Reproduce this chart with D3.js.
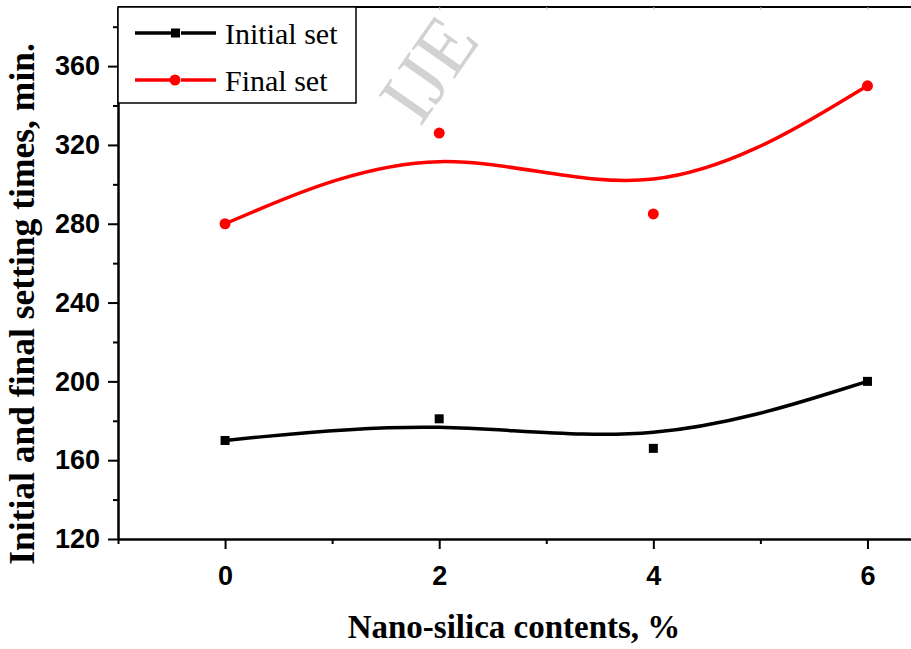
<!DOCTYPE html>
<html>
<head>
<meta charset="utf-8">
<script src="https://cdn.jsdelivr.net/npm/d3@7"></script>
<style>
  body { margin: 0; background: #fff; overflow: hidden; }
  svg { display: block; }
</style>
</head>
<body>
<div class="display"></div>
<script>
const width = 911;
const height = 649;

const contents = [0, 2, 4, 6];
const initialSet = [170, 181, 166, 200];
const finalSet = [280, 326, 285, 350];
const seriesNames = ['Initial set', 'Final set'];
const xMajorTicks = [0, 2, 4, 6];
const xMinorTicks = [-1, 1, 3, 5];
const yMajorTicks = [120, 160, 200, 240, 280, 320, 360];
const yMinorTicks = [140, 180, 220, 260, 300, 340, 380];

const svg = d3.select('.display')
  .append('svg')
  .attr('width', width)
  .attr('height', height);

const xScale = d3.scaleLinear().domain([-1, 6.5]).range([118, 921]);
const yScale = d3.scaleLinear().domain([120, 390]).range([539, 7]);

// watermark
svg.append('text')
  .attr('transform', 'translate(420, 128) rotate(-55)')
  .attr('font-family', 'Liberation Serif')
  .attr('font-size', 80)
  .attr('fill', '#d2d2d2')
  .text('IJE');

// top frame line
svg.append('line')
  .attr('x1', 118).attr('x2', 921)
  .attr('y1', 7).attr('y2', 7)
  .attr('stroke', 'black')
  .attr('stroke-width', 2);
svg.append('g')
  .attr('transform', 'translate(0, 7)')
  .call(d3.axisBottom(xScale).tickValues(xMajorTicks.concat(xMinorTicks)).tickSize(3).tickFormat(''))
  .call(g => g.select('.domain').remove())
  .call(g => g.selectAll('.tick line').attr('stroke', '#bbb'));

const styleAxis = g => {
  g.select('.domain').attr('stroke-width', 2);
  g.selectAll('.tick line').attr('stroke-width', 2);
  g.selectAll('.tick text')
    .attr('font-family', 'Liberation Sans, Arial, sans-serif')
    .attr('font-weight', 'bold')
    .attr('font-size', 27)
    .attr('fill', 'black');
};

// y axis
svg.append('g')
  .attr('transform', `translate(${xScale(-1)}, 0)`)
  .call(d3.axisLeft(yScale).tickValues(yMinorTicks).tickSize(5).tickSizeOuter(0).tickFormat(''))
  .call(styleAxis);
svg.append('g')
  .attr('transform', `translate(${xScale(-1)}, 0)`)
  .call(d3.axisLeft(yScale).tickValues(yMajorTicks).tickSize(10).tickSizeOuter(0).tickPadding(8))
  .call(styleAxis);

// x axis
svg.append('g')
  .attr('transform', `translate(0, ${yScale(120)})`)
  .call(d3.axisBottom(xScale).tickValues(xMinorTicks).tickSize(5).tickSizeOuter(0).tickFormat(''))
  .call(styleAxis);
svg.append('g')
  .attr('transform', `translate(0, ${yScale(120)})`)
  .call(d3.axisBottom(xScale).tickValues(xMajorTicks).tickSize(10).tickSizeOuter(0).tickPadding(17))
  .call(styleAxis);

// axis titles
svg.append('text')
  .attr('x', 514)
  .attr('y', 638)
  .attr('text-anchor', 'middle')
  .attr('font-family', 'Liberation Serif, Times New Roman, serif')
  .attr('font-weight', 'bold')
  .attr('font-size', 33)
  .text('Nano-silica contents, %');

svg.append('text')
  .attr('transform', 'translate(34, 304) rotate(-90)')
  .attr('text-anchor', 'middle')
  .attr('font-family', 'Liberation Serif, Times New Roman, serif')
  .attr('font-weight', 'bold')
  .attr('font-size', 35.5)
  .text('Initial and final setting times, min.');

// curves
const line = d3.line()
  .x(d => xScale(d[0]))
  .y(d => yScale(d[1]))
  .curve(d3.curveBasis);

const series = [
  { name: seriesNames[0], values: initialSet, color: 'black', shape: 'square' },
  { name: seriesNames[1], values: finalSet, color: 'red', shape: 'circle' }
];

series.forEach(s => {
  const pts = contents.map((c, i) => [c, s.values[i]]);
  svg.append('path')
    .datum(pts)
    .attr('d', line)
    .attr('fill', 'none')
    .attr('stroke', s.color)
    .attr('stroke-width', 3.5);
  const marks = svg.append('g');
  if (s.shape === 'square') {
    marks.selectAll('rect')
      .data(pts)
      .enter()
      .append('rect')
      .attr('x', d => xScale(d[0]) - 4.5)
      .attr('y', d => yScale(d[1]) - 4.5)
      .attr('width', 9)
      .attr('height', 9)
      .attr('fill', s.color);
  } else {
    marks.selectAll('circle')
      .data(pts)
      .enter()
      .append('circle')
      .attr('cx', d => xScale(d[0]))
      .attr('cy', d => yScale(d[1]))
      .attr('r', 5.5)
      .attr('fill', s.color);
  }
});

// legend
const legend = svg.append('g');
legend.append('rect')
  .attr('x', 118).attr('y', 7)
  .attr('width', 238).attr('height', 96)
  .attr('fill', 'white')
  .attr('stroke', 'black')
  .attr('stroke-width', 1.5);

series.forEach((s, i) => {
  const y = 33 + i * 47;
  legend.append('line')
    .attr('x1', 135).attr('x2', 216)
    .attr('y1', y).attr('y2', y)
    .attr('stroke', s.color)
    .attr('stroke-width', 3.5);
  legend.append('rect')
    .attr('x', 171).attr('y', y - 8)
    .attr('width', 10).attr('height', 16)
    .attr('fill', 'white');
  if (s.shape === 'square') {
    legend.append('rect')
      .attr('x', 171).attr('y', y - 4.5)
      .attr('width', 9).attr('height', 9)
      .attr('fill', s.color);
  } else {
    legend.append('circle')
      .attr('cx', 175).attr('cy', y)
      .attr('r', 5.5)
      .attr('fill', s.color);
  }
  legend.append('text')
    .attr('x', 225)
    .attr('y', y + 11)
    .attr('font-family', 'Liberation Serif, Times New Roman, serif')
    .attr('font-size', 30)
    .text(s.name);
});
</script>
</body>
</html>
